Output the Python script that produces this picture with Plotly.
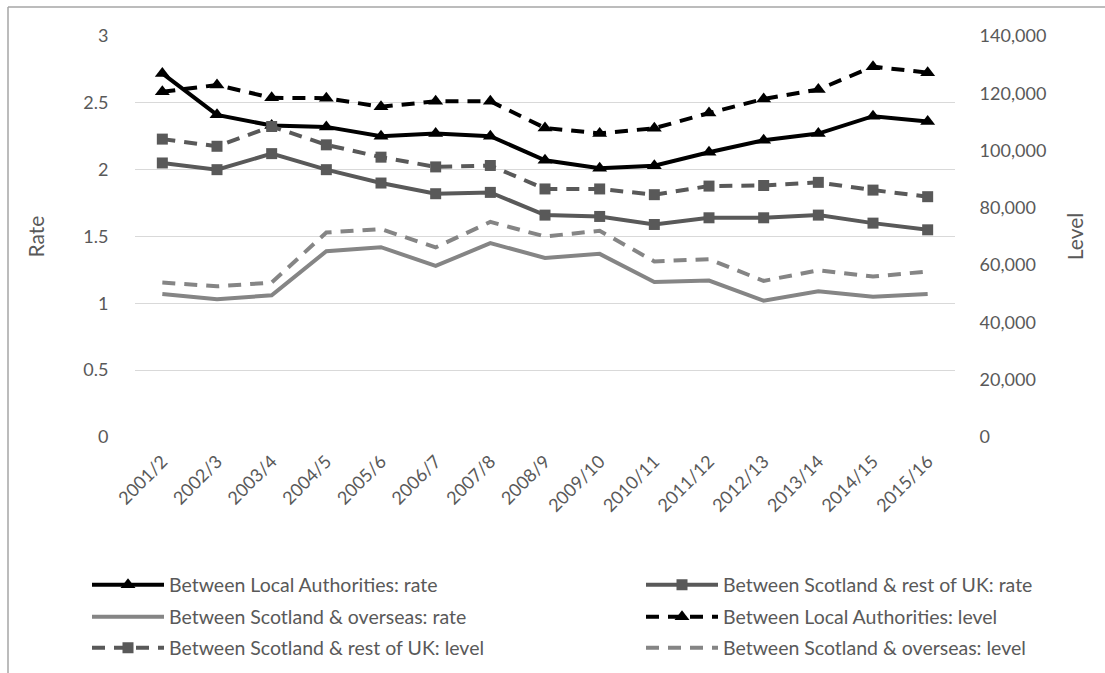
import plotly.graph_objects as go

years = ["2001/2", "2002/3", "2003/4", "2004/5", "2005/6", "2006/7", "2007/8", "2008/9",
         "2009/10", "2010/11", "2011/12", "2012/13", "2013/14", "2014/15", "2015/16"]

la_rate = [2.72, 2.41, 2.33, 2.32, 2.25, 2.27, 2.25, 2.07, 2.01, 2.03, 2.13, 2.22, 2.27, 2.40, 2.36]
ruk_rate = [2.05, 2.00, 2.12, 2.00, 1.90, 1.82, 1.83, 1.66, 1.65, 1.59, 1.64, 1.64, 1.66, 1.60, 1.55]
os_rate = [1.07, 1.03, 1.06, 1.39, 1.42, 1.28, 1.45, 1.34, 1.37, 1.16, 1.17, 1.02, 1.09, 1.05, 1.07]

la_level = [120500, 122900, 118400, 118300, 115300, 117200, 117200, 107900, 106000, 107800,
            113100, 118000, 121300, 129300, 127200]
ruk_level = [104000, 101500, 108400, 102000, 97700, 94300, 94800, 86600, 86600, 84600,
             87600, 87800, 88900, 86200, 83900]
os_level = [53900, 52600, 53900, 71400, 72600, 66200, 75100, 70000, 72000, 61300,
            62100, 54500, 58200, 56000, 57800]

FONT = "Lato, Open Sans, sans-serif"
TXT = "#595959"
BLACK = "#000000"
DARK = "#595959"
LIGHT = "#858585"
DASH = "13px,9px"

L, R, T, B = 135, 150, 36, 236
W, H = 1105, 673
pw, ph = W - L - R, H - T - B


def px(xp):
    return (xp - L) / pw


def py(yp):
    return (H - B - yp) / ph


fig = go.Figure()
fig.add_trace(go.Scatter(x=years, y=la_rate, name="Between Local Authorities: rate", mode="lines+markers",
                         legend="legend",
                         line=dict(color=BLACK, width=4), marker=dict(symbol="triangle-up", size=13, color=BLACK)))
fig.add_trace(go.Scatter(x=years, y=ruk_rate, name="Between Scotland & rest of UK: rate", mode="lines+markers",
                         legend="legend2",
                         line=dict(color=DARK, width=4), marker=dict(symbol="square", size=11, color=DARK)))
fig.add_trace(go.Scatter(x=years, y=os_rate, name="Between Scotland & overseas: rate", mode="lines",
                         legend="legend3",
                         line=dict(color=LIGHT, width=4)))
fig.add_trace(go.Scatter(x=years, y=la_level, name="Between Local Authorities: level", mode="lines+markers",
                         legend="legend4",
                         yaxis="y2", line=dict(color=BLACK, width=4, dash=DASH),
                         marker=dict(symbol="triangle-up", size=13, color=BLACK)))
fig.add_trace(go.Scatter(x=years, y=ruk_level, name="Between Scotland & rest of UK: level", mode="lines+markers",
                         legend="legend5",
                         yaxis="y2", line=dict(color=DARK, width=4, dash=DASH),
                         marker=dict(symbol="square", size=11, color=DARK)))
fig.add_trace(go.Scatter(x=years, y=os_level, name="Between Scotland & overseas: level", mode="lines",
                         legend="legend6",
                         yaxis="y2", line=dict(color=LIGHT, width=4, dash=DASH)))

rows = [585, 617, 648]
cols = [87, 641]


def leg(col, row):
    return dict(orientation="v", x=px(cols[col]), xanchor="left", y=py(rows[row]), yanchor="middle",
                itemwidth=72, tracegroupgap=0, font=dict(size=19.5, color=TXT, family=FONT),
                bgcolor="rgba(0,0,0,0)", borderwidth=0)


fig.update_layout(
    width=W, height=H,
    margin=dict(l=L, r=R, t=T, b=B, autoexpand=False),
    paper_bgcolor="white", plot_bgcolor="white",
    font=dict(family=FONT, color=TXT, size=16),
    showlegend=True,
    xaxis=dict(type="category", tickangle=-45, tickfont=dict(size=18, color=TXT),
               showgrid=False, showline=False, ticks="outside", ticklen=6,
               tickcolor="rgba(0,0,0,0)", automargin=False,
               range=[-0.5, len(years) - 0.5]),
    yaxis=dict(range=[0, 3], dtick=0.5, showgrid=True, gridcolor="#d9d9d9", gridwidth=1,
               zeroline=False, tickfont=dict(size=18, color=TXT), ticks="outside", ticklen=22,
               tickcolor="rgba(0,0,0,0)", automargin=False,
               title=dict(text="Rate", font=dict(size=21, color=TXT), standoff=32)),
    yaxis2=dict(range=[0, 140000], dtick=20000, tickformat=",d", overlaying="y", side="right",
                showgrid=False, zeroline=False, tickfont=dict(size=18, color=TXT),
                ticks="outside", ticklen=20, tickcolor="rgba(0,0,0,0)", automargin=False,
                title=dict(text="Level", font=dict(size=21, color=TXT), standoff=22)),
    legend=leg(0, 0),
    legend2=leg(1, 0),
    legend3=leg(0, 1),
    legend4=leg(1, 1),
    legend5=leg(0, 2),
    legend6=leg(1, 2),
    shapes=[
        dict(type="line", xref="paper", yref="paper", x0=px(8), x1=px(W + 5), y0=py(7), y1=py(7),
             line=dict(color="#a6a6a6", width=1.5)),
        dict(type="line", xref="paper", yref="paper", x0=px(8), x1=px(8), y0=py(7), y1=py(H + 5),
             line=dict(color="#a6a6a6", width=1.5)),
    ],
)

fig.write_html("out.html")
